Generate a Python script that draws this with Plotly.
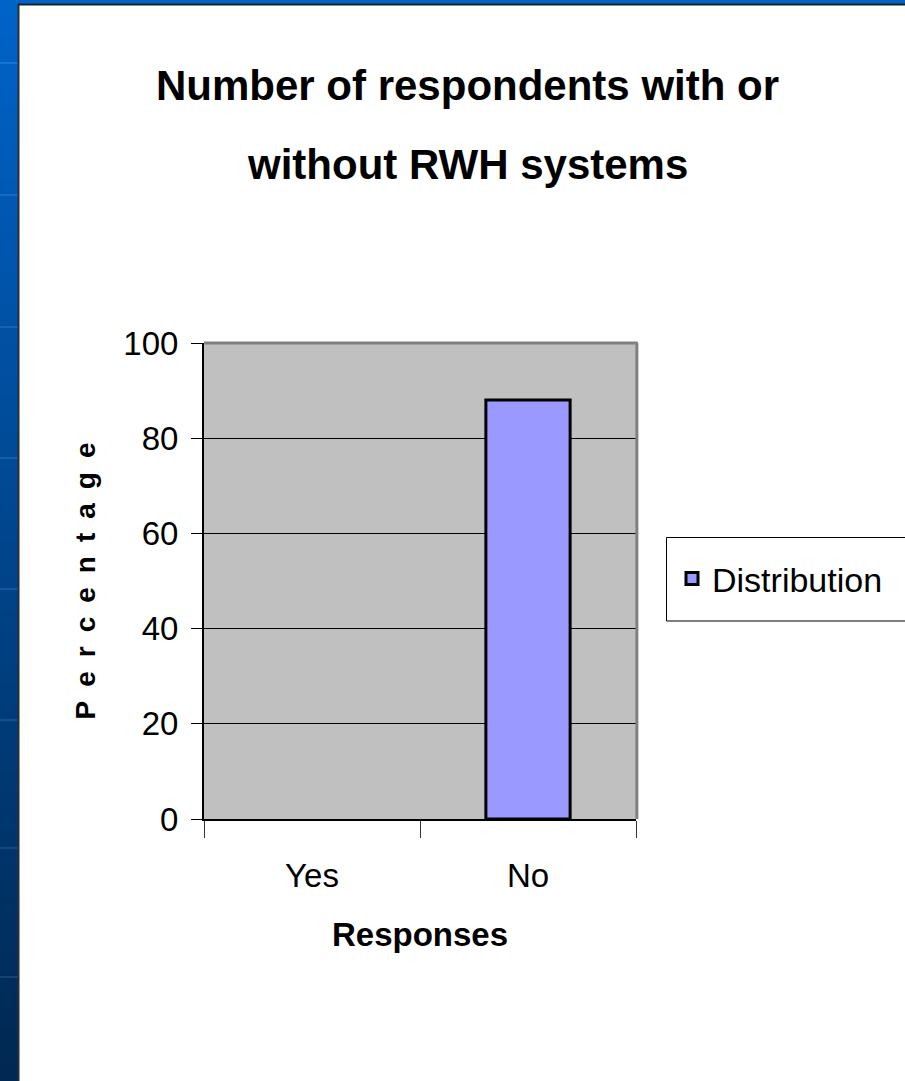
import plotly.graph_objects as go

# Survey results
categories = ["Yes", "No"]
percentages = [0, 88]
series_name = "Distribution"
y_ticks = [0, 20, 40, 60, 80, 100]

title_lines = ["Number of respondents with or", "without RWH systems"]
x_title = "Responses"
y_title = "\u2002".join("Percentage")

FONT = "Liberation Sans Narrow, Arial Narrow, Liberation Sans, Arial, sans-serif"
BAR_FILL = "#9999FF"

W, H = 905, 1081
L, R, T, B = 204, 269, 343, 262
PW, PH = W - L - R, H - T - B


def px_x(px):
    return (px - L) / PW


def px_y(py):
    return (H - B - py) / PH


fig = go.Figure()
# bars (zero-height bars get no outline)
fig.add_trace(go.Bar(
    x=categories, y=percentages, name=series_name,
    marker=dict(color=BAR_FILL,
                line=dict(color="black", width=[0 if v == 0 else 3 for v in percentages])),
    showlegend=False,
))
# legend entry with the outlined swatch
fig.add_trace(go.Bar(
    x=[None], y=[None], name=series_name,
    marker=dict(color=BAR_FILL, line=dict(color="black", width=3)),
    showlegend=True, hoverinfo="skip",
))

shapes = []
# slide background strip on the left, dark-to-light blue gradient
n = 60
top_c = (0, 99, 200)
bot_c = (0, 40, 82)
for i in range(n):
    f = i / (n - 1)
    c = tuple(round(top_c[k] + (bot_c[k] - top_c[k]) * f) for k in range(3))
    y0 = i * H / n
    y1 = (i + 1) * H / n + 1
    shapes.append(dict(type="rect", xref="paper", yref="paper",
                       x0=px_x(0), x1=px_x(18), y0=px_y(y1), y1=px_y(y0),
                       fillcolor="rgb(%d,%d,%d)" % c, line=dict(width=0), layer="below"))
for ly in [62, 194, 326, 457, 588, 719, 847, 976]:
    f = ly / H
    c = tuple(min(255, round(top_c[k] + (bot_c[k] - top_c[k]) * f + 20)) for k in range(3))
    shapes.append(dict(type="rect", xref="paper", yref="paper",
                       x0=px_x(0), x1=px_x(18), y0=px_y(ly + 2), y1=px_y(ly),
                       fillcolor="rgb(%d,%d,%d)" % c, line=dict(width=0), layer="below"))
# top blue band
shapes.append(dict(type="rect", xref="paper", yref="paper",
                   x0=px_x(0), x1=px_x(W), y0=px_y(4), y1=px_y(0),
                   fillcolor="#0063C8", line=dict(width=0), layer="below"))
# dark frame edges of the slide panel
shapes.append(dict(type="line", xref="paper", yref="paper",
                   x0=px_x(18.5), x1=px_x(18.5), y0=px_y(H), y1=px_y(4),
                   line=dict(color="#2a2f36", width=2), layer="below"))
shapes.append(dict(type="line", xref="paper", yref="paper",
                   x0=px_x(18), x1=px_x(W), y0=px_y(4.5), y1=px_y(4.5),
                   line=dict(color="#1c2228", width=2), layer="below"))
# gray border on top and right of the plot area
shapes.append(dict(type="line", xref="paper", yref="paper",
                   x0=0, x1=1.004, y0=1, y1=1,
                   line=dict(color="#808080", width=3), layer="above"))
shapes.append(dict(type="line", xref="paper", yref="paper",
                   x0=1.002, x1=1.002, y0=0, y1=1,
                   line=dict(color="#808080", width=3), layer="above"))
# legend frame
shapes.append(dict(type="rect", xref="paper", yref="paper",
                   x0=px_x(666.5), x1=px_x(912), y0=px_y(621), y1=px_y(537.5),
                   fillcolor="white", line=dict(color="black", width=1), layer="below"))

annotations = [
    dict(text="<b>%s</b>" % title_lines[0], xref="paper", yref="paper",
         x=px_x(467), y=px_y(86), xanchor="center", yanchor="middle",
         showarrow=False, font=dict(family=FONT, size=42, color="black")),
    dict(text="<b>%s</b>" % title_lines[1], xref="paper", yref="paper",
         x=px_x(467), y=px_y(164), xanchor="center", yanchor="middle",
         showarrow=False, font=dict(family=FONT, size=42, color="black")),
]

fig.update_layout(
    width=W, height=H,
    margin=dict(l=L, r=R, t=T, b=B, autoexpand=False),
    paper_bgcolor="white",
    plot_bgcolor="#C0C0C0",
    barmode="overlay",
    bargap=0.61,
    font=dict(family=FONT, color="black"),
    shapes=shapes,
    annotations=annotations,
    legend=dict(
        x=px_x(672), y=px_y(579), xanchor="left", yanchor="middle",
        bgcolor="rgba(0,0,0,0)", borderwidth=0,
        font=dict(family=FONT, size=34, color="black"),
        itemwidth=30,
    ),
    xaxis=dict(
        type="category",
        tickson="boundaries", ticks="outside", ticklen=17, tickwidth=1, tickcolor="#333",
        showline=True, linecolor="black", linewidth=2,
        ticklabelstandoff=26,
        tickfont=dict(family=FONT, size=33, color="black"),
        title=dict(text="<b>%s</b>" % x_title, standoff=30,
                   font=dict(family=FONT, size=33, color="black")),
    ),
    yaxis=dict(
        range=[0, 100], tickvals=y_ticks, ticks="outside", ticklen=11,
        tickwidth=1, tickcolor="black",
        showline=True, linecolor="black", linewidth=2,
        showgrid=True, gridcolor="black", gridwidth=1,
        zeroline=False,
        ticklabelstandoff=6,
        tickfont=dict(family=FONT, size=33, color="black"),
        title=dict(text="<b>%s</b>" % y_title, standoff=20,
                   font=dict(family=FONT, size=28, color="black")),
    ),
)

fig.write_html("out.html")
